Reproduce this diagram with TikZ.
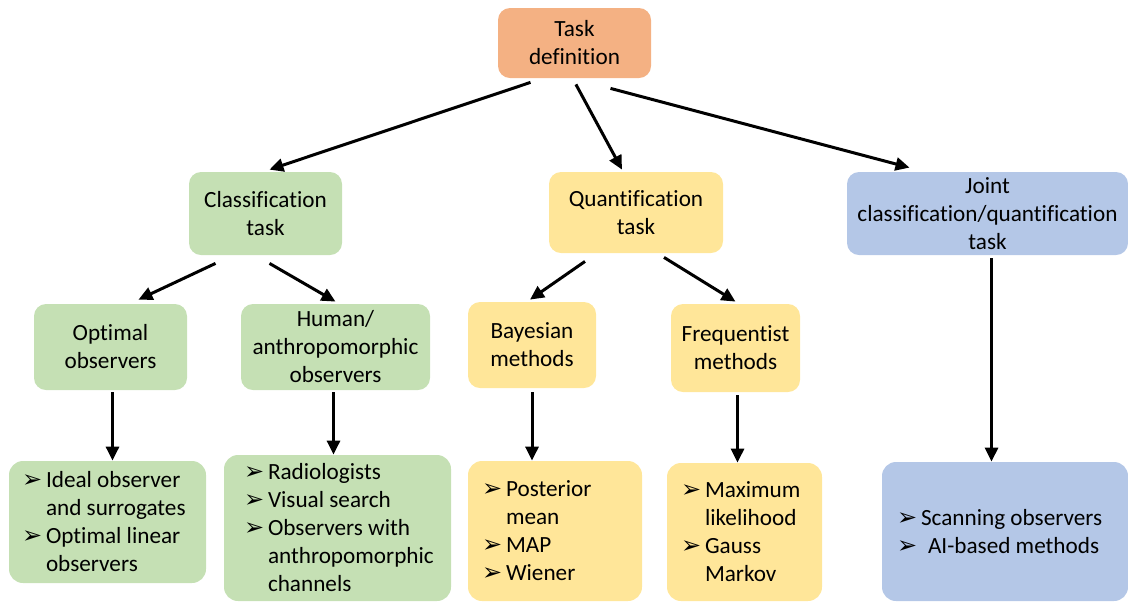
\documentclass[tikz,border=0pt]{standalone}
\usepackage{fontspec}
\setmainfont{Carlito}[Ligatures=CommonOff]
\newfontfamily\symfont{DejaVu Sans}
\usetikzlibrary{arrows.meta}
\definecolor{TaskOrange}{HTML}{F4B183}
\definecolor{ClsGreen}{HTML}{C5E0B4}
\definecolor{QuantYellow}{HTML}{FFE699}
\definecolor{JointBlue}{HTML}{B4C7E7}
\newcommand{\bul}{\makebox[12pt][l]{\symfont\fontsize{12}{12}\selectfont ➢}}
\newcommand{\cnt}{\hspace*{12pt}}
\tikzset{
  taskbox/.style={rounded corners=6pt,align=center,inner sep=2pt},
  listbox/.style={rounded corners=7pt,align=flush left,inner xsep=0pt},
  arr/.style={-{Triangle[length=7pt,width=6.5pt]},line width=1.5pt}
}
\begin{document}
\begin{tikzpicture}[x=0.5pt,y=-0.5pt,font=\fontsize{11.6}{14}\selectfont]
\useasboundingbox (0,0) rectangle (1128,601);
% top level
\node[taskbox,fill=TaskOrange,minimum width=76.5pt,minimum height=35pt] (task) at (574.5,43) {Task\\definition};
\node[taskbox,fill=ClsGreen,minimum width=76.5pt,minimum height=41.5pt] (cls) at (265.5,213.5) {Classification\\task};
\node[taskbox,fill=QuantYellow,minimum width=87pt,minimum height=40.5pt] (quant) at (636,212.5) {Quantification\\task};
\node[taskbox,fill=JointBlue,minimum width=140.5pt,minimum height=41.5pt] (joint) at (987.5,213.5) {Joint\\classification/quantification\\task};
% second level
\node[taskbox,fill=ClsGreen,minimum width=76.5pt,minimum height=43pt] (opt) at (110.5,347) {Optimal\\observers};
\node[taskbox,fill=ClsGreen,minimum width=94.5pt,minimum height=43pt] (hum) at (335.5,347) {Human/\\anthropomorphic\\observers};
\node[taskbox,fill=QuantYellow,minimum width=64pt,minimum height=43pt] (bay) at (532,345) {Bayesian\\methods};
\node[taskbox,fill=QuantYellow,minimum width=64.5pt,minimum height=44pt] (freq) at (735.5,348) {Frequentist\\methods};
% lists
\node[listbox,fill=ClsGreen,minimum width=98.5pt,minimum height=61pt,text width=85.5pt] (optlist) at (107.5,522)
  {\bul Ideal observer\\\cnt and surrogates\\\bul Optimal linear\\\cnt observers};
\node[listbox,fill=ClsGreen,minimum width=113.5pt,minimum height=73pt,text width=93.5pt] (humlist) at (337.5,528)
  {\bul Radiologists\\\bul Visual search\\\bul Observers with\\\cnt\mbox{anthropomorphic}\\\cnt channels};
\node[listbox,fill=QuantYellow,minimum width=87pt,minimum height=70pt,text width=73pt] (baylist) at (555,531)
  {\bul Posterior\\\cnt mean\\\bul MAP\\\bul Wiener};
\node[listbox,fill=QuantYellow,minimum width=77.5pt,minimum height=69pt,text width=63.5pt] (freqlist) at (744.5,532)
  {\bul Maximum\\\cnt likelihood\\\bul Gauss\\\cnt Markov};
\node[listbox,fill=JointBlue,minimum width=123pt,minimum height=69.5pt,text width=108pt] (jointlist) at (1005,531.5)
  {\bul Scanning observers\\\bul\hspace*{3.5pt}AI-based methods};
% connectors
\draw[arr] ([xshift=-22pt,yshift=-2pt]task.south) -- ([xshift=2pt,yshift=1pt]cls.north);
\draw[arr] ([xshift=0.7pt,yshift=-3pt]task.south) -- ([xshift=-7pt,yshift=1pt]quant.north);
\draw[arr] ([xshift=18pt,yshift=-5pt]task.south) -- ([xshift=-39pt,yshift=2pt]joint.north);
\draw[arr] ([xshift=-25pt,yshift=-4pt]cls.south) -- ([xshift=14pt,yshift=2pt]opt.north);
\draw[arr] ([xshift=2pt,yshift=-4pt]cls.south) -- ([yshift=1pt]hum.north);
\draw[arr] ([xshift=-25.5pt,yshift=-4pt]quant.south) -- ([xshift=-1pt,yshift=1pt]bay.north);
\draw[arr] ([xshift=14pt,yshift=-2pt]quant.south) -- ([yshift=1pt]freq.north);
\draw[arr,shorten <=1pt] ([xshift=1pt]opt.south) -- ([xshift=1pt]opt.south |- optlist.north);
\draw[arr,shorten <=1pt] ([xshift=-1pt]hum.south) -- ([xshift=-1pt]hum.south |- humlist.north);
\draw[arr,shorten <=2pt] (bay.south) -- (bay.south |- baylist.north);
\draw[arr,shorten <=1.5pt] ([xshift=1pt]freq.south) -- ([xshift=1pt]freq.south |- freqlist.north);
\draw[arr,shorten <=1.5pt] ([xshift=2pt]joint.south) -- ([xshift=2pt]joint.south |- jointlist.north);
\end{tikzpicture}
\end{document}
